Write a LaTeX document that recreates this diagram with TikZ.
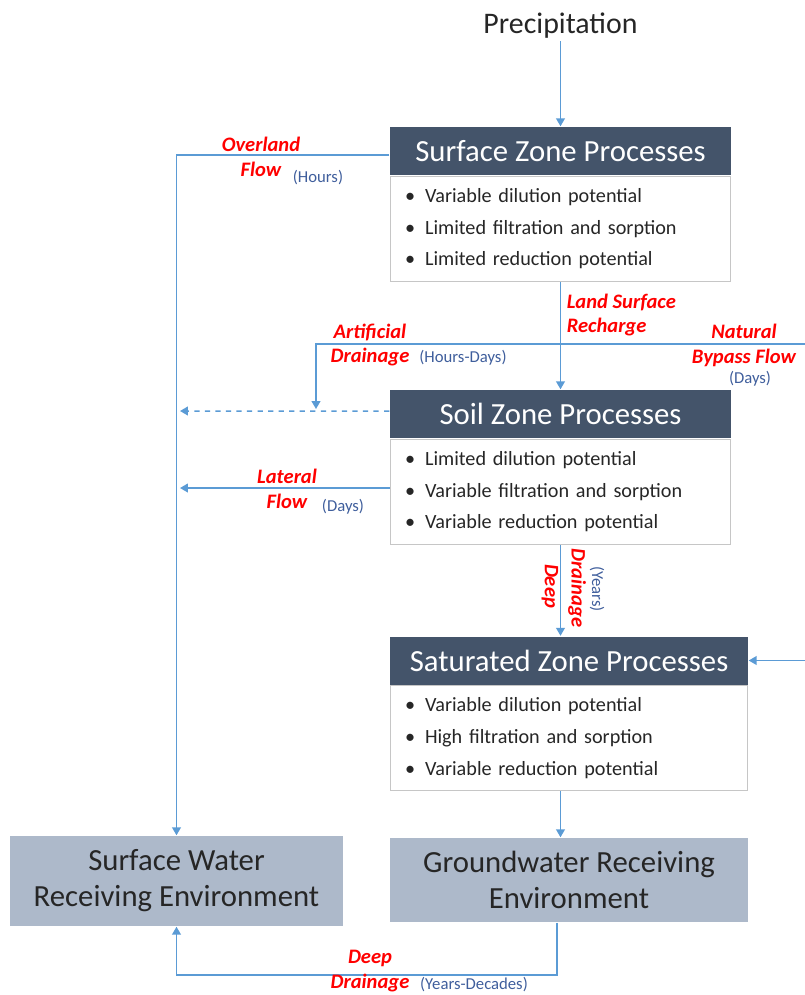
\documentclass[tikz,border=0pt]{standalone}
\usepackage{fontspec}
\setmainfont{Carlito}
\usetikzlibrary{arrows.meta}
\definecolor{hdr}{HTML}{44546A}
\definecolor{rcv}{HTML}{ADB9CA}
\definecolor{lnk}{HTML}{5B9BD5}
\definecolor{lblred}{HTML}{FF0000}
\definecolor{lblblue}{HTML}{3F5E9C}
\definecolor{txt}{HTML}{262626}
\newcommand{\bul}[1]{\makebox[0.4cm][l]{\textbullet}#1}

\begin{document}
\begin{tikzpicture}[x=0.02cm,y=-0.02cm,line width=0.85pt,
  flow/.style={draw=lnk,-{Triangle[length=4.5pt,width=5pt]}},
  hdrbox/.style={fill=hdr,text=white,minimum height=0.96cm,inner sep=0pt,font=\fontsize{17.5}{21}\selectfont},
  bodybox/.style={draw=gray!45,fill=white,line width=0.6pt,minimum height=2.1cm,inner xsep=0.3cm,align=left,text=txt,font=\fontsize{11.5}{18.1}\selectfont},
  rcvbox/.style={fill=rcv,text=txt,align=center,font=\fontsize{17.5}{20.4}\selectfont},
  rlab/.style={text=lblred,align=center,inner sep=0pt,font=\fontsize{11.7}{14.2}\selectfont\bfseries\itshape},
  blab/.style={text=lblblue,inner sep=0pt,font=\fontsize{9.5}{11}\selectfont}]
\useasboundingbox (0,0) rectangle (805,995);
% ================= input =================
\node[inner sep=1pt,text=txt,font=\fontsize{17}{20}\selectfont] (prec) at (560.5,26) {Precipitation};
% ================= surface zone =================
\node[hdrbox,minimum width=6.82cm] (surfH) at (560.5,151) {Surface Zone Processes};
\node[bodybox,text width=6.22cm,anchor=north] (surfB) at (surfH.south)
  {\bul{Variable dilution potential}\\\bul{Limited filtration and sorption}\\\bul{Limited reduction potential}};
% ================= soil zone =================
\node[hdrbox,minimum width=6.82cm] (soilH) at (560.5,414) {Soil Zone Processes};
\node[bodybox,text width=6.22cm,anchor=north] (soilB) at (soilH.south)
  {\bul{Limited dilution potential}\\\bul{Variable filtration and sorption}\\\bul{Variable reduction potential}};
% ================= saturated zone =================
\node[hdrbox,minimum width=7.16cm] (satH) at (569,660.5) {Saturated Zone Processes};
\node[bodybox,text width=6.56cm,anchor=north] (satB) at (satH.south)
  {\bul{Variable dilution potential}\\\bul{High filtration and sorption}\\\bul{Variable reduction potential}};
% ================= receiving environments =================
\node[rcvbox,minimum width=7.16cm,minimum height=1.68cm] (gw) at (569,880) {Groundwater Receiving\\Environment};
\node[rcvbox,minimum width=6.66cm,minimum height=1.8cm] (swe) at (176.5,881) {Surface Water\\Receiving Environment};
% free ends of the flow lines
\coordinate (split) at (560.5,344);
\coordinate (artend) at (316,409);
\coordinate (bypass) at (806.5,344);
\coordinate (dashend) at (180,411);
\coordinate (latend) at (180,488);
\coordinate (btm) at (557,975);
% ================= flows =================
\draw[flow] (prec) -- (surfH);
\draw[flow] ([yshift=-0.08cm]surfH.west) -| (swe.north);
\draw[flow] (surfB) -- (soilH);
\draw[flow] (split) -| (artend);
\draw[flow] (split) -- (bypass) |- (satH.east);
\draw[flow,dashed] ([yshift=0.06cm]soilH.west) -- (dashend);
\draw[flow] (soilB.west |- latend) -- (latend);
\draw[flow] (soilB.south) -- (soilB.south |- satH.north);
\draw[flow] (soilB.south |- satB.south) -- (soilB.south |- gw.north);
\draw[flow] (gw.south -| btm) -- (btm) -| (swe.south);
% ================= flow labels =================
\node[rlab] (ovl) at (261,157) {Overland\\Flow};
\node[blab] (ovlT) at (318,178) {(Hours)};
\node[rlab,align=left,anchor=west] (lsr) at (566,315) {Land Surface\\Recharge};
\node[rlab] (art) at (370,345) {Artificial\\Drainage};
\node[blab] (artT) at (463,358) {(Hours-Days)};
\node[rlab] (nbf) at (744,345) {Natural\\Bypass Flow};
\node[blab] (nbfT) at (750,379) {(Days)};
\node[rlab] (lat) at (287,489) {Lateral\\Flow};
\node[blab] (latT) at (343,507) {(Days)};
\node[rlab,rotate=-90] (dd1) at (550,586) {Deep};
\node[rlab,rotate=-90] (dd2) at (577,588) {Drainage};
\node[blab,rotate=-90] (ddT) at (597,589) {(Years)};
\node[rlab] (bdd) at (370,971) {Deep\\Drainage};
\node[blab] (bddT) at (474,985) {(Years-Decades)};
\end{tikzpicture}
\end{document}
